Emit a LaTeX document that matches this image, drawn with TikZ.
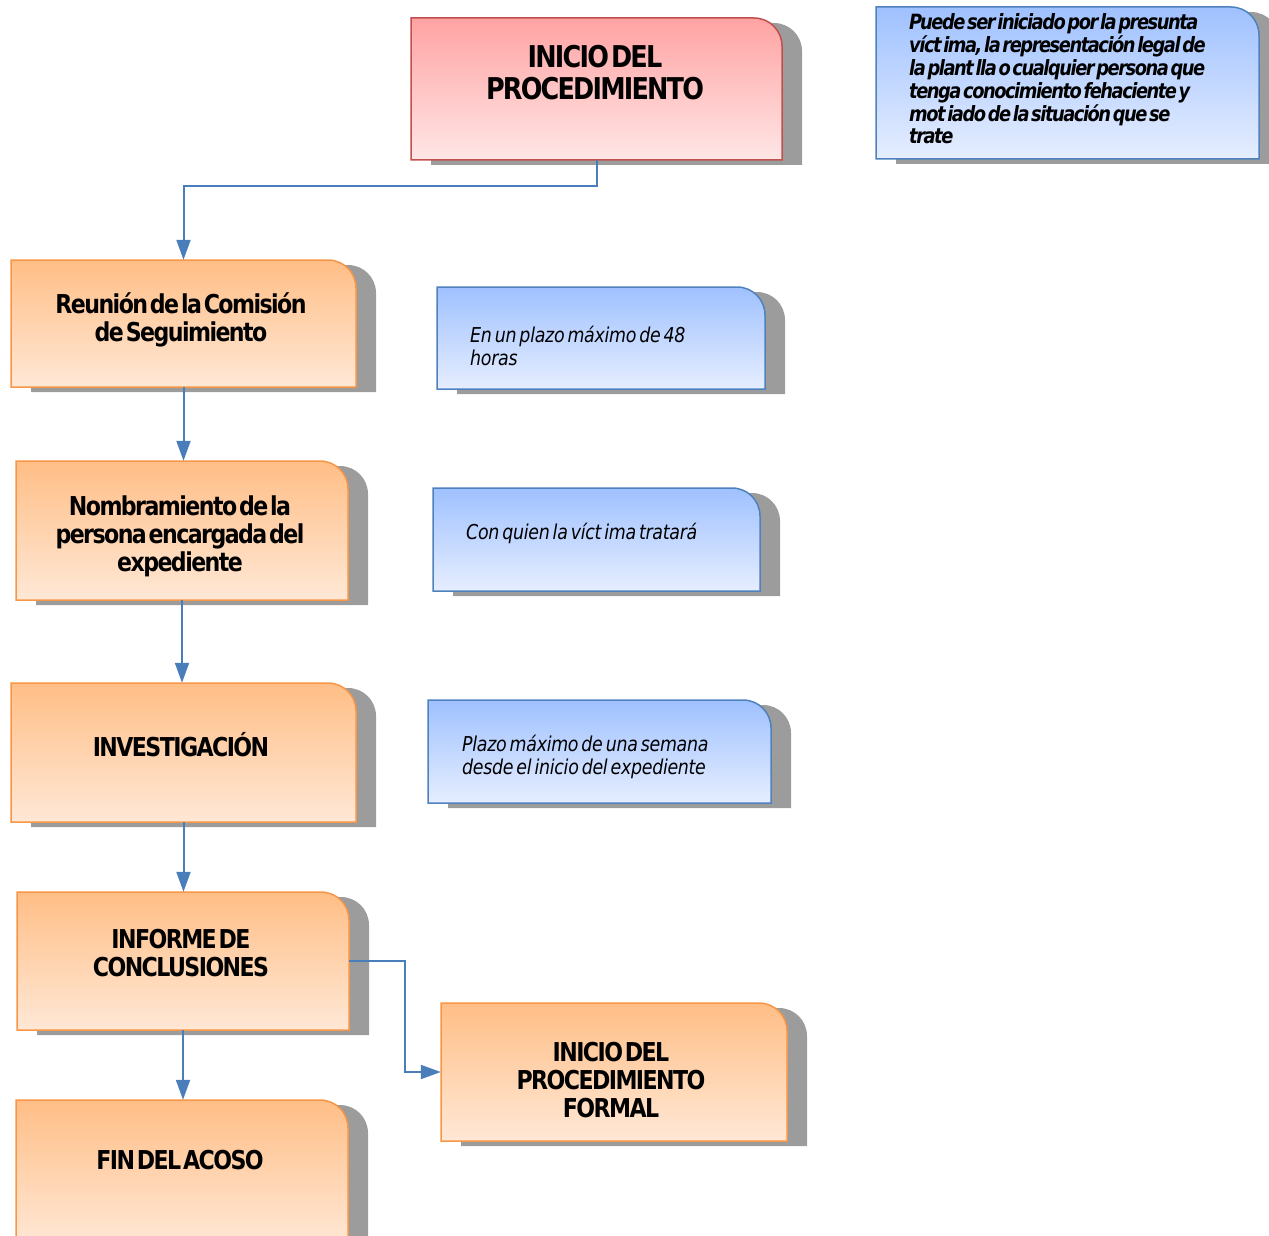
\documentclass[tikz,border=0pt]{standalone}
\usepackage{fontspec}
\setmainfont{DejaVu Sans}
\newfontfamily\cajafont{DejaVu Sans}[FakeStretch=0.85,LetterSpace=-6,WordSpace=0.3]
\newfontfamily\avisofont{DejaVu Sans}[FakeStretch=0.85,LetterSpace=-7,WordSpace=0.35]
\newfontfamily\notafont{DejaVu Sans}[FakeStretch=0.85,LetterSpace=-1.5,WordSpace=0.55]
\usetikzlibrary{arrows.meta,positioning}

\definecolor{rojoborde}{HTML}{C0504D}
\definecolor{rojoarriba}{HTML}{FFA3A3}
\definecolor{rojoabajo}{HTML}{FFE6E6}
\definecolor{naranjaborde}{HTML}{F79646}
\definecolor{naranjaarriba}{HTML}{FFBE86}
\definecolor{naranjaabajo}{HTML}{FFE8D6}
\definecolor{azulborde}{HTML}{4F81BD}
\definecolor{azularriba}{HTML}{9FC1FF}
\definecolor{azulabajo}{HTML}{E6EEFF}
\definecolor{gris}{HTML}{9C9C9C}
\definecolor{linea}{HTML}{4A7EBB}

\tikzset{
	rojo/.style={draw=rojoborde, line width=1.5pt, top color=rojoarriba, bottom color=rojoabajo},
	naranja/.style={draw=naranjaborde, line width=1.5pt, top color=naranjaarriba, bottom color=naranjaabajo},
	azul/.style={draw=azulborde, line width=1.5pt, top color=azularriba, bottom color=azulabajo},
	titulo/.style={font=\cajafont\bfseries\fontsize{26}{28}\selectfont, align=center, inner sep=0pt},
	nota/.style={font=\notafont\itshape\fontsize{20.5}{23}\selectfont, align=left, anchor=west, inner sep=0pt},
	flecha/.style={draw=linea, line width=2pt, -{Triangle[width=14pt,length=20pt]}}
}

% caja con la esquina superior derecha redondeada: nombre, estilo, x1, y1, x2, y2
\newcommand{\caja}[6]{%
	\fill[gris] (#3+20,#4+5) -- (#5-8,#4+5) .. controls (#5+7.5,#4+5) and (#5+20,#4+17.5) .. (#5+20,#4+33) -- (#5+20,#6+5) -- (#3+20,#6+5) -- cycle;
	\path[#2] (#3,#6) -- (#3,#4) -- (#5-28,#4) .. controls (#5-12.5,#4) and (#5,#4+12.5) .. (#5,#4+28) -- (#5,#6) -- cycle;
	\node[inner sep=0pt, minimum width=#5-#3, minimum height=#6-#4] (#1) at ({(#3+#5)/2},{(#4+#6)/2}) {};
}

\begin{document}
\begin{tikzpicture}[x=1pt, y=-1pt]
	\useasboundingbox (0,0) rectangle (1269,1236);

	\caja{inicio}{rojo}{411}{18}{782}{160}
	\caja{quien}{azul}{876}{7}{1259}{159}
	\caja{reunion}{naranja}{11}{260}{356}{387}
	\caja{plazo}{azul}{437}{287}{765}{389}
	\caja{nombramiento}{naranja}{16}{461}{348}{600}
	\caja{trato}{azul}{433}{488}{760}{591}
	\caja{investigacion}{naranja}{11}{683}{356}{822}
	\caja{semana}{azul}{428}{700}{771}{803}
	\caja{informe}{naranja}{17}{892}{349}{1030}
	\caja{formal}{naranja}{441}{1003}{787}{1141}
	\caja{fin}{naranja}{16}{1100}{348}{1245}

	\node[titulo, font=\cajafont\bfseries\fontsize{30}{32}\selectfont] (t-inicio) at (595,73) {INICIO DEL\\PROCEDIMIENTO};
	\node[titulo] (t-reunion) at (181,320) {Reunión de la Comisión\\de Seguimiento};
	\node[titulo] (t-nombramiento) at (180,536) {Nombramiento de la\\persona encargada del\\expediente};
	\node[titulo] (t-investigacion) at (181,745) {INVESTIGACIÓN};
	\node[titulo] (t-informe) at (181,953) {INFORME DE\\CONCLUSIONES};
	\node[titulo] (t-formal) at (611,1080) {INICIO DEL\\PROCEDIMIENTO\\FORMAL};
	\node[titulo] (t-fin) at (180,1160) {FIN DEL ACOSO};

	\node[nota, font=\avisofont\bfseries\itshape\fontsize{21}{22.8}\selectfont] (t-quien) at (909,79) {Puede ser iniciado por la presunta\\víct ima, la representación legal de\\la plant lla o cualquier persona que\\tenga conocimiento fehaciente y\\mot iado de la situación que se\\trate};
	\node[nota] (t-plazo) at (470,346) {En un plazo máximo de 48\\horas};
	\node[nota] (t-trato) at (466,533) {Con quien la víct ima tratará};
	\node[nota] (t-semana) at (462,757) {Plazo máximo de una semana\\desde el inicio del expediente};

	\draw[flecha] (inicio.south) -- ++(0,26) -| (reunion.north);
	\draw[flecha] (reunion.south) -- (nombramiento.north -| reunion.south);
	\draw[flecha] (nombramiento.south) -- (investigacion.north -| nombramiento.south);
	\draw[flecha] (investigacion.south) -- (informe.north -| investigacion.south);
	\draw[flecha] (informe.south) -- (fin.north -| informe.south);
	\draw[flecha] (informe.east) -- ++(56,0) |- (formal.west);
\end{tikzpicture}
\end{document}
